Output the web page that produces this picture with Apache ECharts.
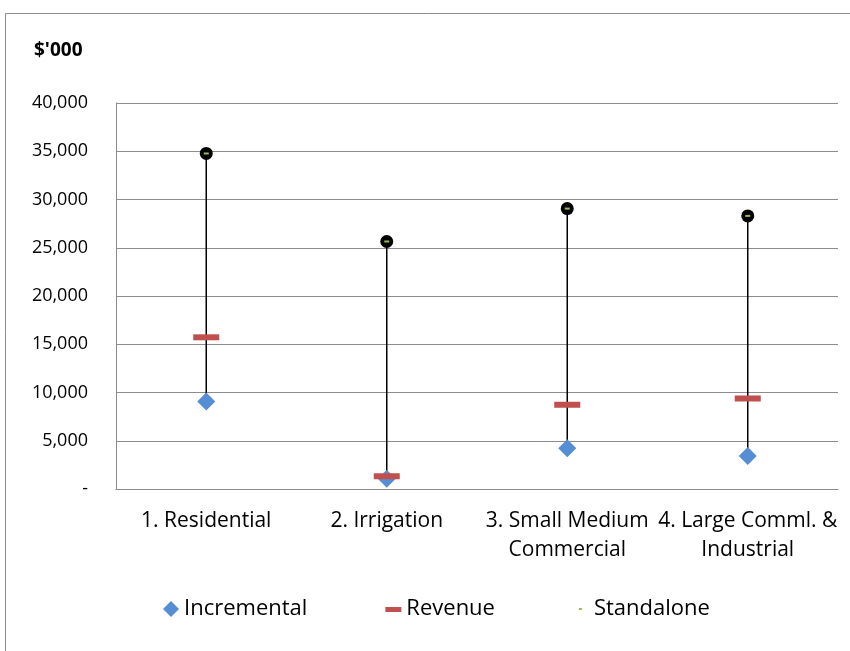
<!DOCTYPE html>
<html>
<head>
<meta charset="utf-8">
<script src="https://cdn.jsdelivr.net/npm/echarts@6/dist/echarts.min.js"></script>
<style>
  html, body { margin: 0; padding: 0; background: #fff; }
  #chart { width: 850px; height: 651px; }
</style>
</head>
<body>
<div id="chart"></div>
<script>
// Cost ranges by customer class ($'000)
const categories = ['1. Residential', '2. Irrigation', '3. Small Medium\nCommercial', '4. Large Comml. &\nIndustrial'];
const incremental = [9070, 1050, 4230, 3430];
const revenue = [15720, 1320, 8730, 9380];
const standalone = [34770, 25650, 29060, 28300];
const yTicks = { min: 0, max: 40000, interval: 5000 };

const FONT = '"Open Sans", Lato, sans-serif';
const fmt = v => v === 0 ? '-' : v.toLocaleString('en-US');

const chart = echarts.init(document.getElementById('chart'), null, { renderer: 'canvas' });

chart.setOption({
  animation: false,
  backgroundColor: '#fff',
  textStyle: { fontFamily: FONT },
  graphic: [
    {
      type: 'polyline',
      shape: { points: [[5.5, 660], [5.5, 13.5], [860, 13.5]] },
      style: { stroke: '#8c8c8c', lineWidth: 1, fill: null },
      silent: true
    },
    {
      type: 'text', left: 34, top: 41,
      style: { text: "$'000", font: 'bold 19px ' + FONT, fill: '#000' }
    }
  ],
  grid: { left: 116, right: 12, top: 103, bottom: 162 },
  legend: {
    top: 593,
    left: 158,
    itemGap: 78,
    itemWidth: 16,
    itemHeight: 16,
    textStyle: { fontSize: 22, color: '#000', fontFamily: FONT },
    data: [
      { name: 'Incremental', icon: 'diamond', itemStyle: { color: '#558ED5' } },
      { name: 'Revenue', icon: 'path://M0,0L0,0M0,16L0,16M0,6L16,6L16,11L0,11Z', itemStyle: { color: '#C0504D' } },
      { name: 'Standalone', icon: 'path://M0,0L0,0M16,16L16,16M6,7L9,7L9,9L6,9Z', itemStyle: { color: '#9BBB59' } }
    ]
  },
  xAxis: {
    type: 'category',
    data: categories,
    axisLine: { lineStyle: { color: '#8c8c8c' } },
    axisTick: { show: false },
    axisLabel: { interval: 0, color: '#000', fontSize: 21, lineHeight: 29, margin: 18, fontFamily: FONT }
  },
  yAxis: {
    type: 'value',
    min: yTicks.min, max: yTicks.max, interval: yTicks.interval,
    axisLine: { show: true, lineStyle: { color: '#8c8c8c' } },
    axisTick: { show: false },
    splitLine: { lineStyle: { color: '#8c8c8c' } },
    axisLabel: { color: '#000', fontSize: 18, margin: 28, formatter: fmt, fontFamily: FONT }
  },
  series: [
    {
      // high-low connector from incremental to standalone
      type: 'custom',
      name: 'range',
      silent: true,
      z: 1,
      data: categories.map((c, i) => [i, incremental[i], standalone[i]]),
      renderItem: (params, api) => {
        const lo = api.coord([api.value(0), api.value(1)]);
        const hi = api.coord([api.value(0), api.value(2)]);
        return {
          type: 'line',
          shape: { x1: lo[0], y1: lo[1], x2: hi[0], y2: hi[1] },
          style: { stroke: '#000', lineWidth: 1.5 }
        };
      }
    },
    {
      type: 'scatter', name: 'Incremental', z: 3,
      symbol: 'diamond', symbolSize: [18, 18],
      itemStyle: { color: '#558ED5', opacity: 1 },
      data: incremental
    },
    {
      type: 'scatter', name: 'Revenue', z: 4,
      symbol: 'rect', symbolSize: [26, 6],
      itemStyle: { color: '#C0504D', opacity: 1 },
      data: revenue
    },
    {
      type: 'scatter', name: 'standaloneRing', z: 5,
      symbol: 'circle', symbolSize: 13,
      itemStyle: { color: '#000', opacity: 1 },
      data: standalone
    },
    {
      type: 'scatter', name: 'Standalone', z: 6,
      symbol: 'rect', symbolSize: [5, 2],
      itemStyle: { color: '#9BBB59', opacity: 1 },
      data: standalone
    }
  ]
});
</script>
</body>
</html>
